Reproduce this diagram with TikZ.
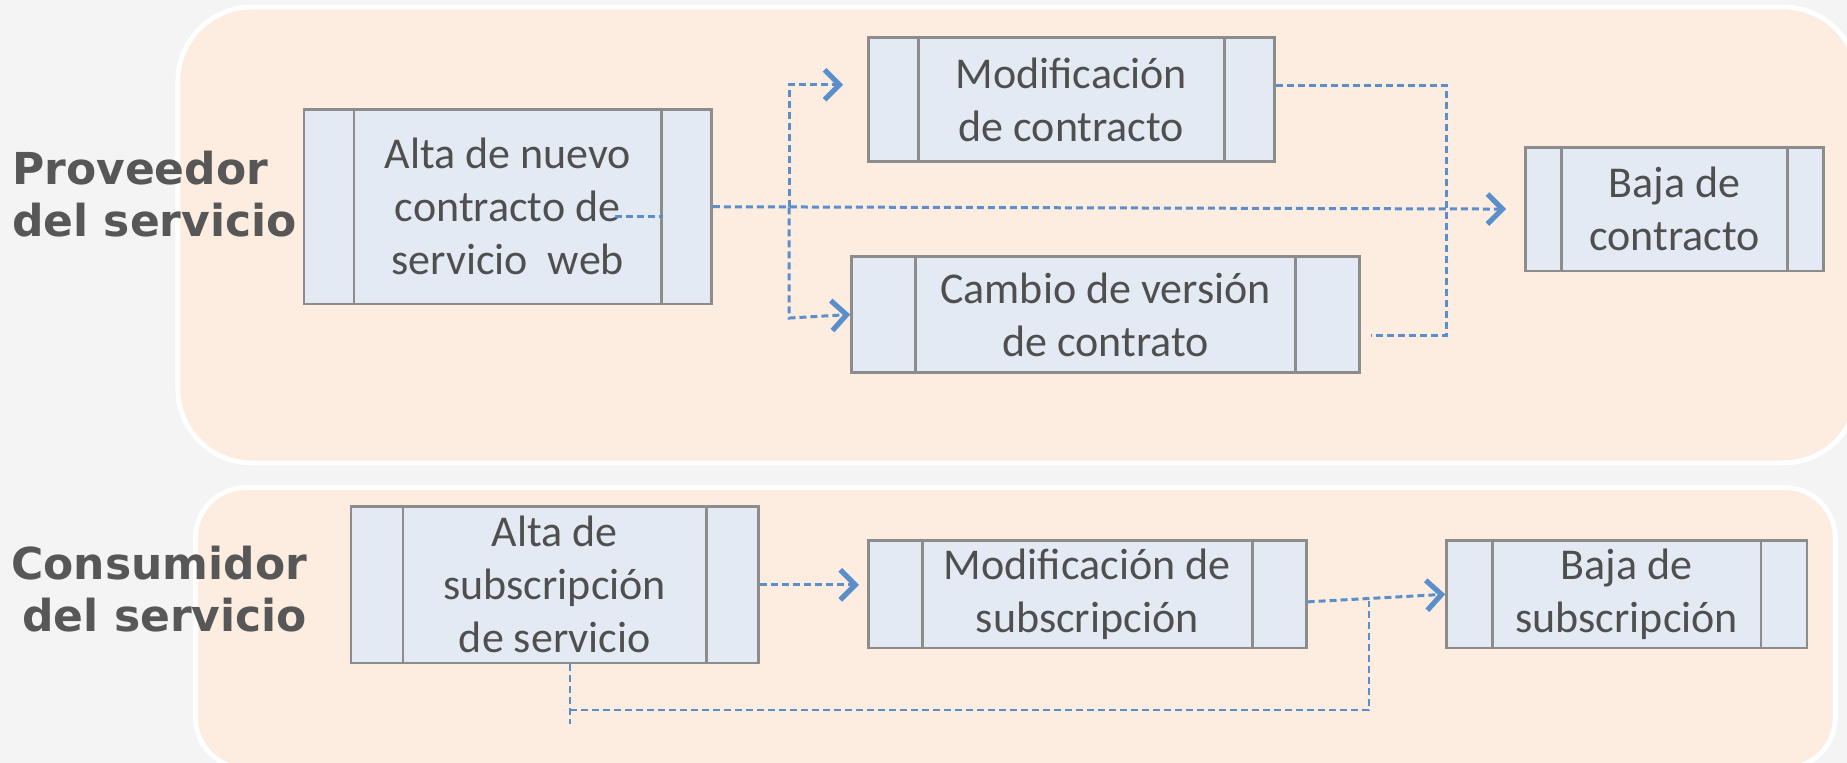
\documentclass[tikz,border=0pt]{standalone}
\usepackage{fontspec}
\setmainfont{Carlito}
\newfontfamily\lanefont{DejaVu Sans}
\usetikzlibrary{arrows.meta}
\definecolor{pagegray}{HTML}{F4F4F4}
\definecolor{lanefill}{HTML}{FDEDE1}
\definecolor{boxfill}{HTML}{E3EAF4}
\definecolor{boxgray}{HTML}{8C8C8C}
\definecolor{textgray}{HTML}{4F4F4F}
\definecolor{labelgray}{HTML}{575757}
\definecolor{linkblue}{HTML}{5B8FCB}

\begin{document}
\begin{tikzpicture}[
        x=0.589pt,
        y=0.589pt,
        yscale=-1,
        lane/.style={
            draw=white,
            line width=2.4pt,
            fill=lanefill
        },
        lanelabel/.style={
            font=\lanefont\bfseries\fontsize{22}{26}\selectfont,
            text=labelgray,
            inner sep=0pt
        },
        proc/.style={
            rectangle,
            draw=boxgray,
            fill=boxfill,
            line width=1.35pt,
            inner sep=0pt,
            align=center,
            text=textgray,
            font=\fontsize{22}{26.5}\selectfont,
            path picture={
                \draw [boxgray,line width=1.35pt]
                    ([xshift=#1]path picture bounding box.north west) -- ([xshift=#1]path picture bounding box.south west)
                    ([xshift=-#1]path picture bounding box.north east) -- ([xshift=-#1]path picture bounding box.south east);
            }
        },
        proc/.default=25pt,
        link/.style={
            draw=linkblue,
            line width=1.5pt,
            dash pattern=on 3.5pt off 2pt
        },
        line/.style={
            link,
            -{Straight Barb[length=7.5pt,width=15pt,line width=2.6pt]}
        },
      ]
        \useasboundingbox [fill=pagegray] (0,0) rectangle (1568,647.7);
        % swimlanes
        \path [lane,rounded corners=37pt] (151,6) rectangle (1577,393);
        \path [lane,rounded corners=25pt] (166,414) rectangle (1558,652);
        \node [lanelabel,align=left,anchor=west] (provider) at (10,165) {Proveedor\\del servicio};
        \node [lanelabel,align=right,anchor=east] (consumer) at (261,500) {Consumidor\\del servicio};
        % contract process
        \node [proc=25pt,minimum width=203.8pt,minimum height=97.2pt] (alta) at (431,175.5) {Alta de nuevo\\contracto de\\servicio\ \ web};
        \node [proc=25pt,minimum width=203.2pt,minimum height=61.8pt] (modif) at (909.5,84.5) {Modificación\\de contracto};
        \node [proc=32pt,minimum width=253.9pt,minimum height=57.7pt] (cambio) at (938.5,267) {Cambio de versión\\de contrato};
        \node [proc=18pt,minimum width=149pt,minimum height=61.8pt] (baja) at (1421.5,177.5) {Baja de\\contracto};
        % subscription process
        \node [proc=26pt,minimum width=203.8pt,minimum height=78.3pt] (subalta) at (471,496.5) {Alta de\\subscripción\\de servicio};
        \node [proc=27pt,minimum width=219pt,minimum height=53.6pt] (submod) at (923,504.5) {Modificación de\\subscripción};
        \node [proc=23pt,minimum width=180.2pt,minimum height=53.6pt] (subbaja) at (1381,504.5) {Baja de\\subscripción};
        % connectors
        \coordinate (stub) at (522,184);
        \coordinate (fork) at (670,176);
        \coordinate (forklow) at (670,270);
        \coordinate (merge) at (1228,285);
        \path [link] (stub) -- ([xshift=-25pt]alta.east |- stub);
        \path [line] (alta.east) -- ([xshift=-9pt]baja.west);
        \path [line] (fork) |- ([xshift=-11.8pt,yshift=-7.4pt]modif.west);
        \path [line] (fork) -- (forklow) -- (cambio.west);
        \path [link] ([yshift=-6.8pt]modif.east) -| (merge) -- ([xshift=5.3pt]cambio.east |- merge);
        \coordinate (looptail) at (484,615);
        \coordinate (loopright) at (1162,603);
        \coordinate (loopjoin) at (1162,510);
        \path [line] (subalta.east) -- ([xshift=-4pt]subalta.east -| submod.west);
        \path [line] ([yshift=3.8pt]submod.east) -- (subbaja.west);
        \path [link,line width=1.2pt] (subalta.south -| looptail) -- (looptail) (looptail |- loopright) -- (loopright) -- (loopjoin);
      \end{tikzpicture}
\end{document}
